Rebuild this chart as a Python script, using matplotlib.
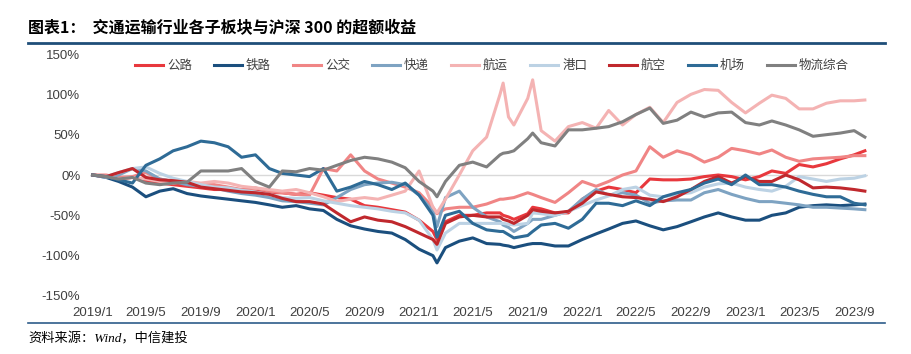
import matplotlib
matplotlib.use('Agg')
import matplotlib.pyplot as plt
import matplotlib.dates as mdates
from matplotlib.lines import Line2D
import pandas as pd

plt.rcParams['font.family'] = ['Liberation Sans', 'Noto Sans CJK SC']

# 日期（月初 + 2021 年几个关键点）
dates = [
    '2019-01-02', '2019-02-01', '2019-03-01', '2019-04-01', '2019-05-01', '2019-06-01',
    '2019-07-01', '2019-08-01', '2019-09-01', '2019-10-01', '2019-11-01', '2019-12-01',
    '2020-01-01', '2020-02-01', '2020-03-01', '2020-04-01', '2020-05-01', '2020-06-01',
    '2020-07-01', '2020-08-01', '2020-09-01', '2020-10-01', '2020-11-01', '2020-12-01',
    '2021-01-01', '2021-02-01', '2021-02-10', '2021-03-01', '2021-04-01', '2021-05-01',
    '2021-06-01', '2021-07-01', '2021-07-08', '2021-07-20', '2021-08-01', '2021-09-01',
    '2021-09-12', '2021-10-01', '2021-11-01', '2021-12-01',
    '2022-01-01', '2022-02-01', '2022-03-01', '2022-04-01', '2022-05-01', '2022-06-01',
    '2022-07-01', '2022-08-01', '2022-09-01', '2022-10-01', '2022-11-01', '2022-12-01',
    '2023-01-01', '2023-02-01', '2023-03-01', '2023-04-01', '2023-05-01', '2023-06-01',
    '2023-07-01', '2023-08-01', '2023-09-01', '2023-09-25',
]

# 超额收益（%）
gonglu = [0, -2, -5, -3, -8, -10, -12, -14, -16, -18, -18, -20,
          -20, -22, -22, -24, -22, -25, -28, -30, -38, -40, -43, -46,
          -56, -70, -80, -58, -50, -50, -47, -47, -50, -52, -55, -48, -40, -42, -47, -47,
          -30, -20, -15, -18, -22, -5, -6, -6, -5, -2, 0, -2,
          -6, -2, 5, 2, 13, 10, 14, 20, 25, 30]
tielu = [0, -3, -8, -15, -27, -20, -17, -23, -26, -28, -30, -32,
         -34, -37, -40, -38, -42, -44, -55, -63, -67, -70, -72, -80,
         -92, -100, -109, -90, -82, -78, -85, -86, -87, -88, -90, -86, -85, -85, -88, -88,
         -80, -73, -67, -60, -57, -63, -68, -64, -58, -52, -47, -52,
         -56, -56, -50, -47, -40, -38, -37, -38, -37, -36]
gongjiao = [0, 0, -3, -2, 3, -5, -8, -10, -12, -12, -15, -18,
            -16, -20, -22, -24, -25, 8, 5, 25, 5, -5, -10, -15,
            -22, -40, -48, -42, -40, -40, -36, -30, -30, -29, -28, -22, -24, -28, -34, -22,
            -8, -14, -8, 0, 5, 35, 22, 30, 25, 16, 22, 33,
            30, 26, 31, 22, 17, 20, 21, 22, 24, 24]
kuaidi = [0, -3, 0, 8, 5, -5, -8, -12, -14, -16, -20, -23,
          -25, -28, -32, -33, -35, -37, -28, -18, -12, -10, -9, -12,
          -25, -45, -64, -28, -20, -40, -52, -58, -62, -65, -70, -60, -55, -55, -50, -45,
          -30, -18, -25, -22, -25, -35, -32, -31, -31, -22, -18, -24,
          -29, -33, -33, -35, -37, -40, -40, -41, -42, -43]
hangyun = [0, -2, -5, -3, -5, -8, -10, -8, -10, -8, -10, -14,
           -16, -18, -20, -18, -22, -27, -33, -30, -28, -30, -25, -20,
           5, -40, -47, -30, 0, 30, 47, 100, 114, 72, 62, 95, 118, 55, 42, 60,
           65, 58, 80, 62, 75, 84, 65, 90, 100, 106, 105, 90,
           77, 89, 99, 95, 82, 82, 89, 92, 92, 93]
gangkou = [0, -2, 3, 8, 10, 2, -4, -8, -12, -15, -16, -19,
           -21, -24, -28, -29, -28, -32, -35, -38, -40, -42, -45, -47,
           -56, -80, -93, -72, -60, -60, -60, -60, -60, -61, -62, -60, -47, -48, -50, -45,
           -38, -31, -26, -18, -15, -25, -27, -24, -22, -15, -11, -10,
           -15, -18, -20, -14, -2, -5, -8, -5, -4, -1]
hangkong = [0, -2, 3, 8, -3, -6, -7, -9, -15, -17, -19, -21,
            -22, -24, -29, -33, -33, -36, -47, -58, -52, -56, -58, -64,
            -72, -80, -86, -60, -52, -50, -52, -52, -55, -57, -60, -50, -43, -45, -47, -45,
            -35, -21, -24, -27, -28, -30, -33, -27, -18, -8, -2, -10,
            -2, -8, -8, 0, -6, -16, -15, -16, -18, -20]
jichang = [0, -2, -6, -10, 12, 20, 30, 35, 42, 40, 35, 22,
           25, 8, 2, 0, -2, 8, -20, -15, -8, -12, -18, -10,
           -25, -50, -77, -50, -45, -60, -68, -70, -70, -74, -78, -75, -70, -62, -60, -66,
           -55, -35, -35, -38, -32, -38, -27, -22, -18, -10, -5, -12,
           0, -12, -12, -15, -20, -24, -27, -27, -35, -37]
wuliu = [0, -2, -5, -3, -10, -12, -10, -9, 5, 5, 5, 8,
         -8, -15, 5, 4, 8, 6, 12, 18, 22, 20, 16, 9,
         -8, -20, -27, -8, 12, 16, 10, 25, 27, 28, 30, 45, 52, 40, 36, 56,
         56, 58, 60, 66, 75, 83, 64, 68, 78, 72, 77, 78,
         65, 62, 67, 62, 56, 48, 50, 52, 55, 47]

names = ['公路', '铁路', '公交', '快递', '航运', '港口', '航空', '机场', '物流综合']
series = [gonglu, tielu, gongjiao, kuaidi, hangyun, gangkou, hangkong, jichang, wuliu]
colors = ['#e8383d', '#1b4f7e', '#f08585', '#7ea3c2', '#f4b3b3',
          '#bcd2e4', '#c0282d', '#2e6b96', '#808080']

x = pd.to_datetime(dates)

fig = plt.figure(figsize=(9.12, 3.54), dpi=100)
ax = fig.add_axes([90 / 912, 54 / 354, 778 / 912, 250 / 354])

ax.axhline(0, color='#d9d9d9', lw=1, zorder=0)
for name, vals, c in zip(names, series, colors):
    ax.plot(x, vals, color=c, lw=2.2, label=name, solid_joinstyle='round')

ax.set_ylim(-155, 155)
ax.set_yticks(range(-150, 151, 50))
ax.set_yticklabels([f'{v}%' for v in range(-150, 151, 50)])
ax.set_xlim(pd.Timestamp('2018-12-27'), pd.Timestamp('2023-10-02'))
ax.xaxis.set_major_locator(mdates.MonthLocator(bymonth=[1, 5, 9]))
ax.xaxis.set_major_formatter(plt.FuncFormatter(
    lambda v, p: f'{mdates.num2date(v).year}/{mdates.num2date(v).month}'))
ax.tick_params(axis='both', length=0, labelsize=9.5, labelcolor='#404040')
ax.tick_params(axis='y', pad=7)
ax.tick_params(axis='x', pad=5)
for s in ax.spines.values():
    s.set_visible(False)

leg = fig.legend(loc='center', bbox_to_anchor=(492 / 912, 1 - 66 / 354), ncol=9,
                 frameon=False, fontsize=9, handlelength=2.25, handletextpad=0.32,
                 columnspacing=1.75)
for t in leg.get_texts():
    t.set_color('#404040')

# 标题、分隔线和资料来源
fig.text(28 / 912, 1 - 28 / 354, '图表1：  交通运输行业各子板块与沪深 300 的超额收益',
         fontsize=11.5, fontweight='bold', va='center', ha='left',
         family=['Noto Sans CJK SC'])
fig.add_artist(Line2D([28 / 912, 885 / 912], [1 - 43 / 354] * 2,
                      transform=fig.transFigure, color='#1f4e79', lw=2))
fig.add_artist(Line2D([28 / 912, 885 / 912], [1 - 323 / 354] * 2,
                      transform=fig.transFigure, color='#2e5c8a', lw=1.2))
fig.text(28 / 912, 1 - 339 / 354, '资料来源：Wind，中信建投', fontsize=9.5,
         style='italic', va='center', ha='left',
         family=['Liberation Serif', 'Noto Sans CJK SC'])

fig.savefig('out.png', dpi=100)
